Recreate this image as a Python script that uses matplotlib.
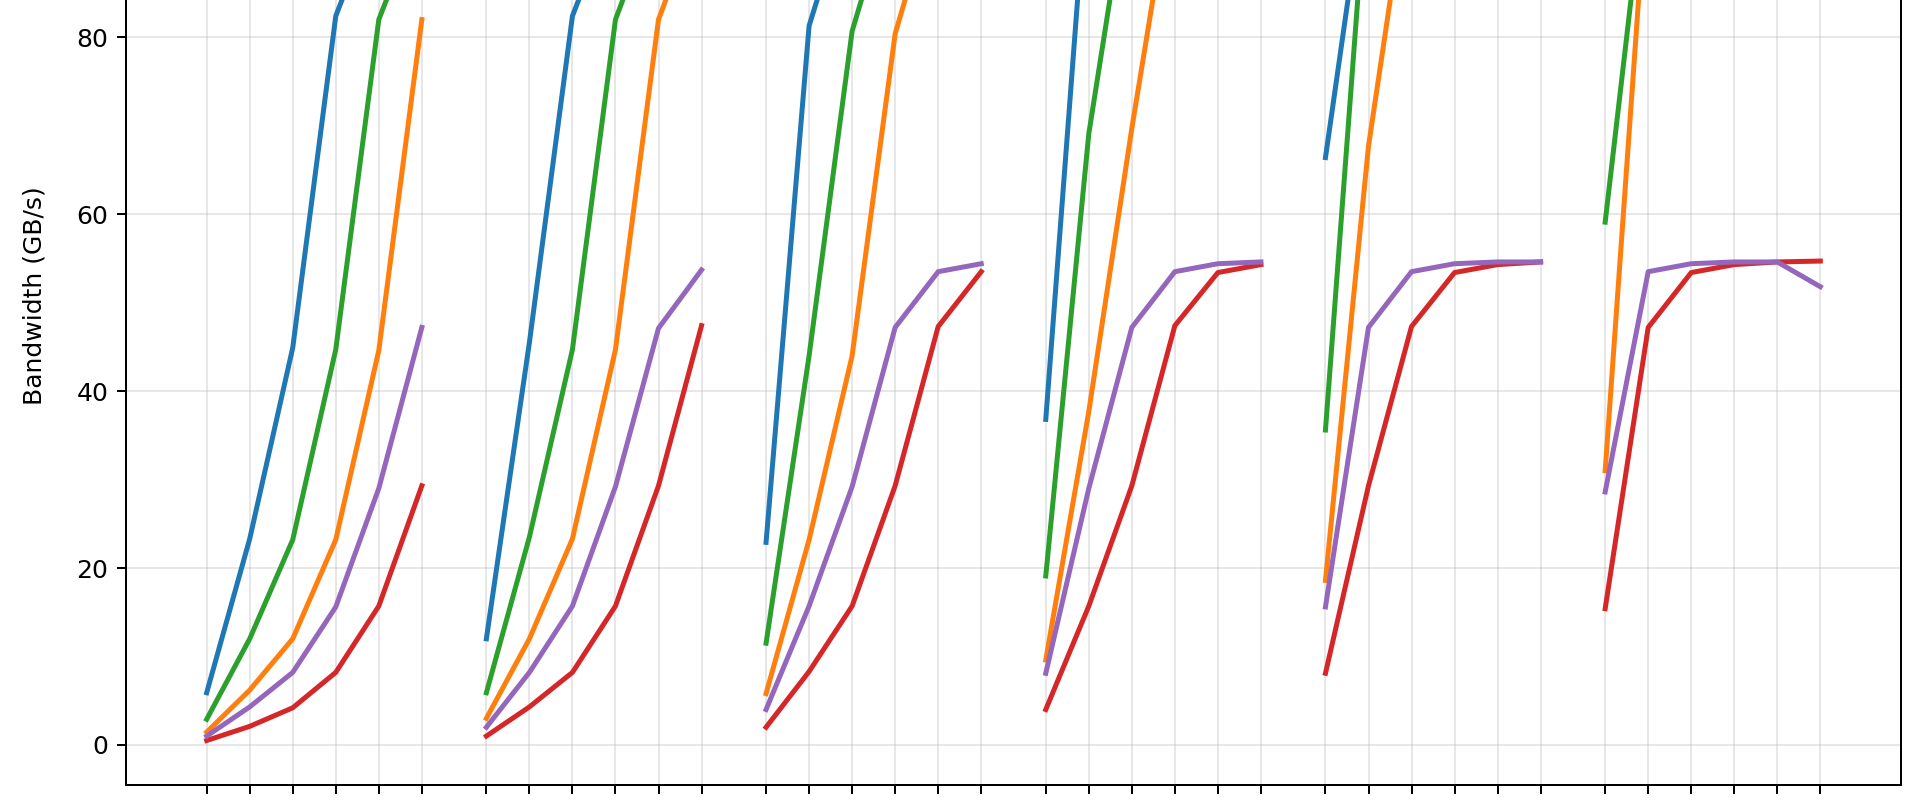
import matplotlib
matplotlib.use("Agg")
import matplotlib.pyplot as plt
import numpy as np

# bandwidth per config, 6 groups x 6 points each (GB/s)
blue = [
    [5.9, 23.3, 44.9, 82.4, 95.0, 99.0],
    [12.0, 45.5, 82.4, 95.0, 99.0, 100.0],
    [22.9, 81.3, 97.0, 100.0, 100.5, 101.0],
    [36.8, 101.0, 101.0, 101.0, 101.0, 101.0],
    [66.4, 100.5, 101.0, 101.0, 101.0, 101.0],
    [93.0, 100.5, 101.0, 101.0, 101.0, 101.0],
]
orange = [
    [1.45, 6.2, 12.0, 23.2, 44.6, 82.0],
    [3.0, 12.0, 23.3, 44.7, 82.0, 95.0],
    [5.8, 23.2, 44.0, 80.4, 97.0, 100.0],
    [9.6, 37.7, 69.7, 99.5, 100.5, 101.0],
    [18.6, 67.7, 100.4, 101.0, 101.0, 101.0],
    [31.0, 99.6, 101.0, 101.0, 101.0, 101.0],
]
green = [
    [2.9, 12.0, 23.2, 44.7, 82.0, 94.5],
    [5.9, 23.5, 44.7, 82.0, 95.0, 99.0],
    [11.5, 44.0, 80.7, 97.0, 100.0, 100.5],
    [19.1, 69.1, 100.0, 101.0, 101.0, 101.0],
    [35.6, 100.5, 101.0, 101.0, 101.0, 101.0],
    [59.1, 101.0, 101.0, 101.0, 101.0, 101.0],
]
red = [
    [0.5, 2.1, 4.2, 8.2, 15.7, 29.3],
    [1.0, 4.3, 8.2, 15.7, 29.3, 47.4],
    [2.0, 8.3, 15.7, 29.3, 47.3, 53.5],
    [4.0, 15.7, 29.3, 47.4, 53.4, 54.3],
    [8.1, 29.3, 47.3, 53.4, 54.3, 54.6],
    [15.4, 47.2, 53.4, 54.3, 54.6, 54.7],
]
purple = [
    [1.0, 4.3, 8.2, 15.6, 29.0, 47.2],
    [2.0, 8.2, 15.7, 29.2, 47.1, 53.7],
    [4.0, 15.7, 29.2, 47.2, 53.5, 54.4],
    [8.1, 29.0, 47.2, 53.5, 54.4, 54.6],
    [15.6, 47.2, 53.5, 54.4, 54.6, 54.6],
    [28.6, 53.5, 54.4, 54.6, 54.6, 51.8],
]

series = [(blue, "C0"), (orange, "C1"), (green, "C2"), (red, "C3"), (purple, "C4")]

n_groups = 6
n_points = 6
group_step = n_points + 0.5

fig = plt.figure(figsize=(1920 / 180, 800 / 180), dpi=180)
# axes runs past the top edge of the picture (only the lower part is shown)
ax = fig.add_axes([126 / 1920, 15 / 800, 1775 / 1920, 978 / 800])

xticks = []
for g in range(n_groups):
    x = g * group_step + np.arange(n_points)
    xticks.extend(x)
    for data, color in series:
        ax.plot(x, data[g], color=color, linewidth=2.0)

ax.set_xticks(xticks)
ax.tick_params(axis="x", labelbottom=False)
ax.set_yticks([0, 20, 40, 60, 80])
ax.set_xlim(-1.875, xticks[-1] + 1.875)
ax.set_ylim(-4.53, 106.03)
ax.set_ylabel("Bandwidth (GB/s)", labelpad=12)
ax.grid(True, alpha=0.3)

fig.savefig("out.png", dpi=180)
